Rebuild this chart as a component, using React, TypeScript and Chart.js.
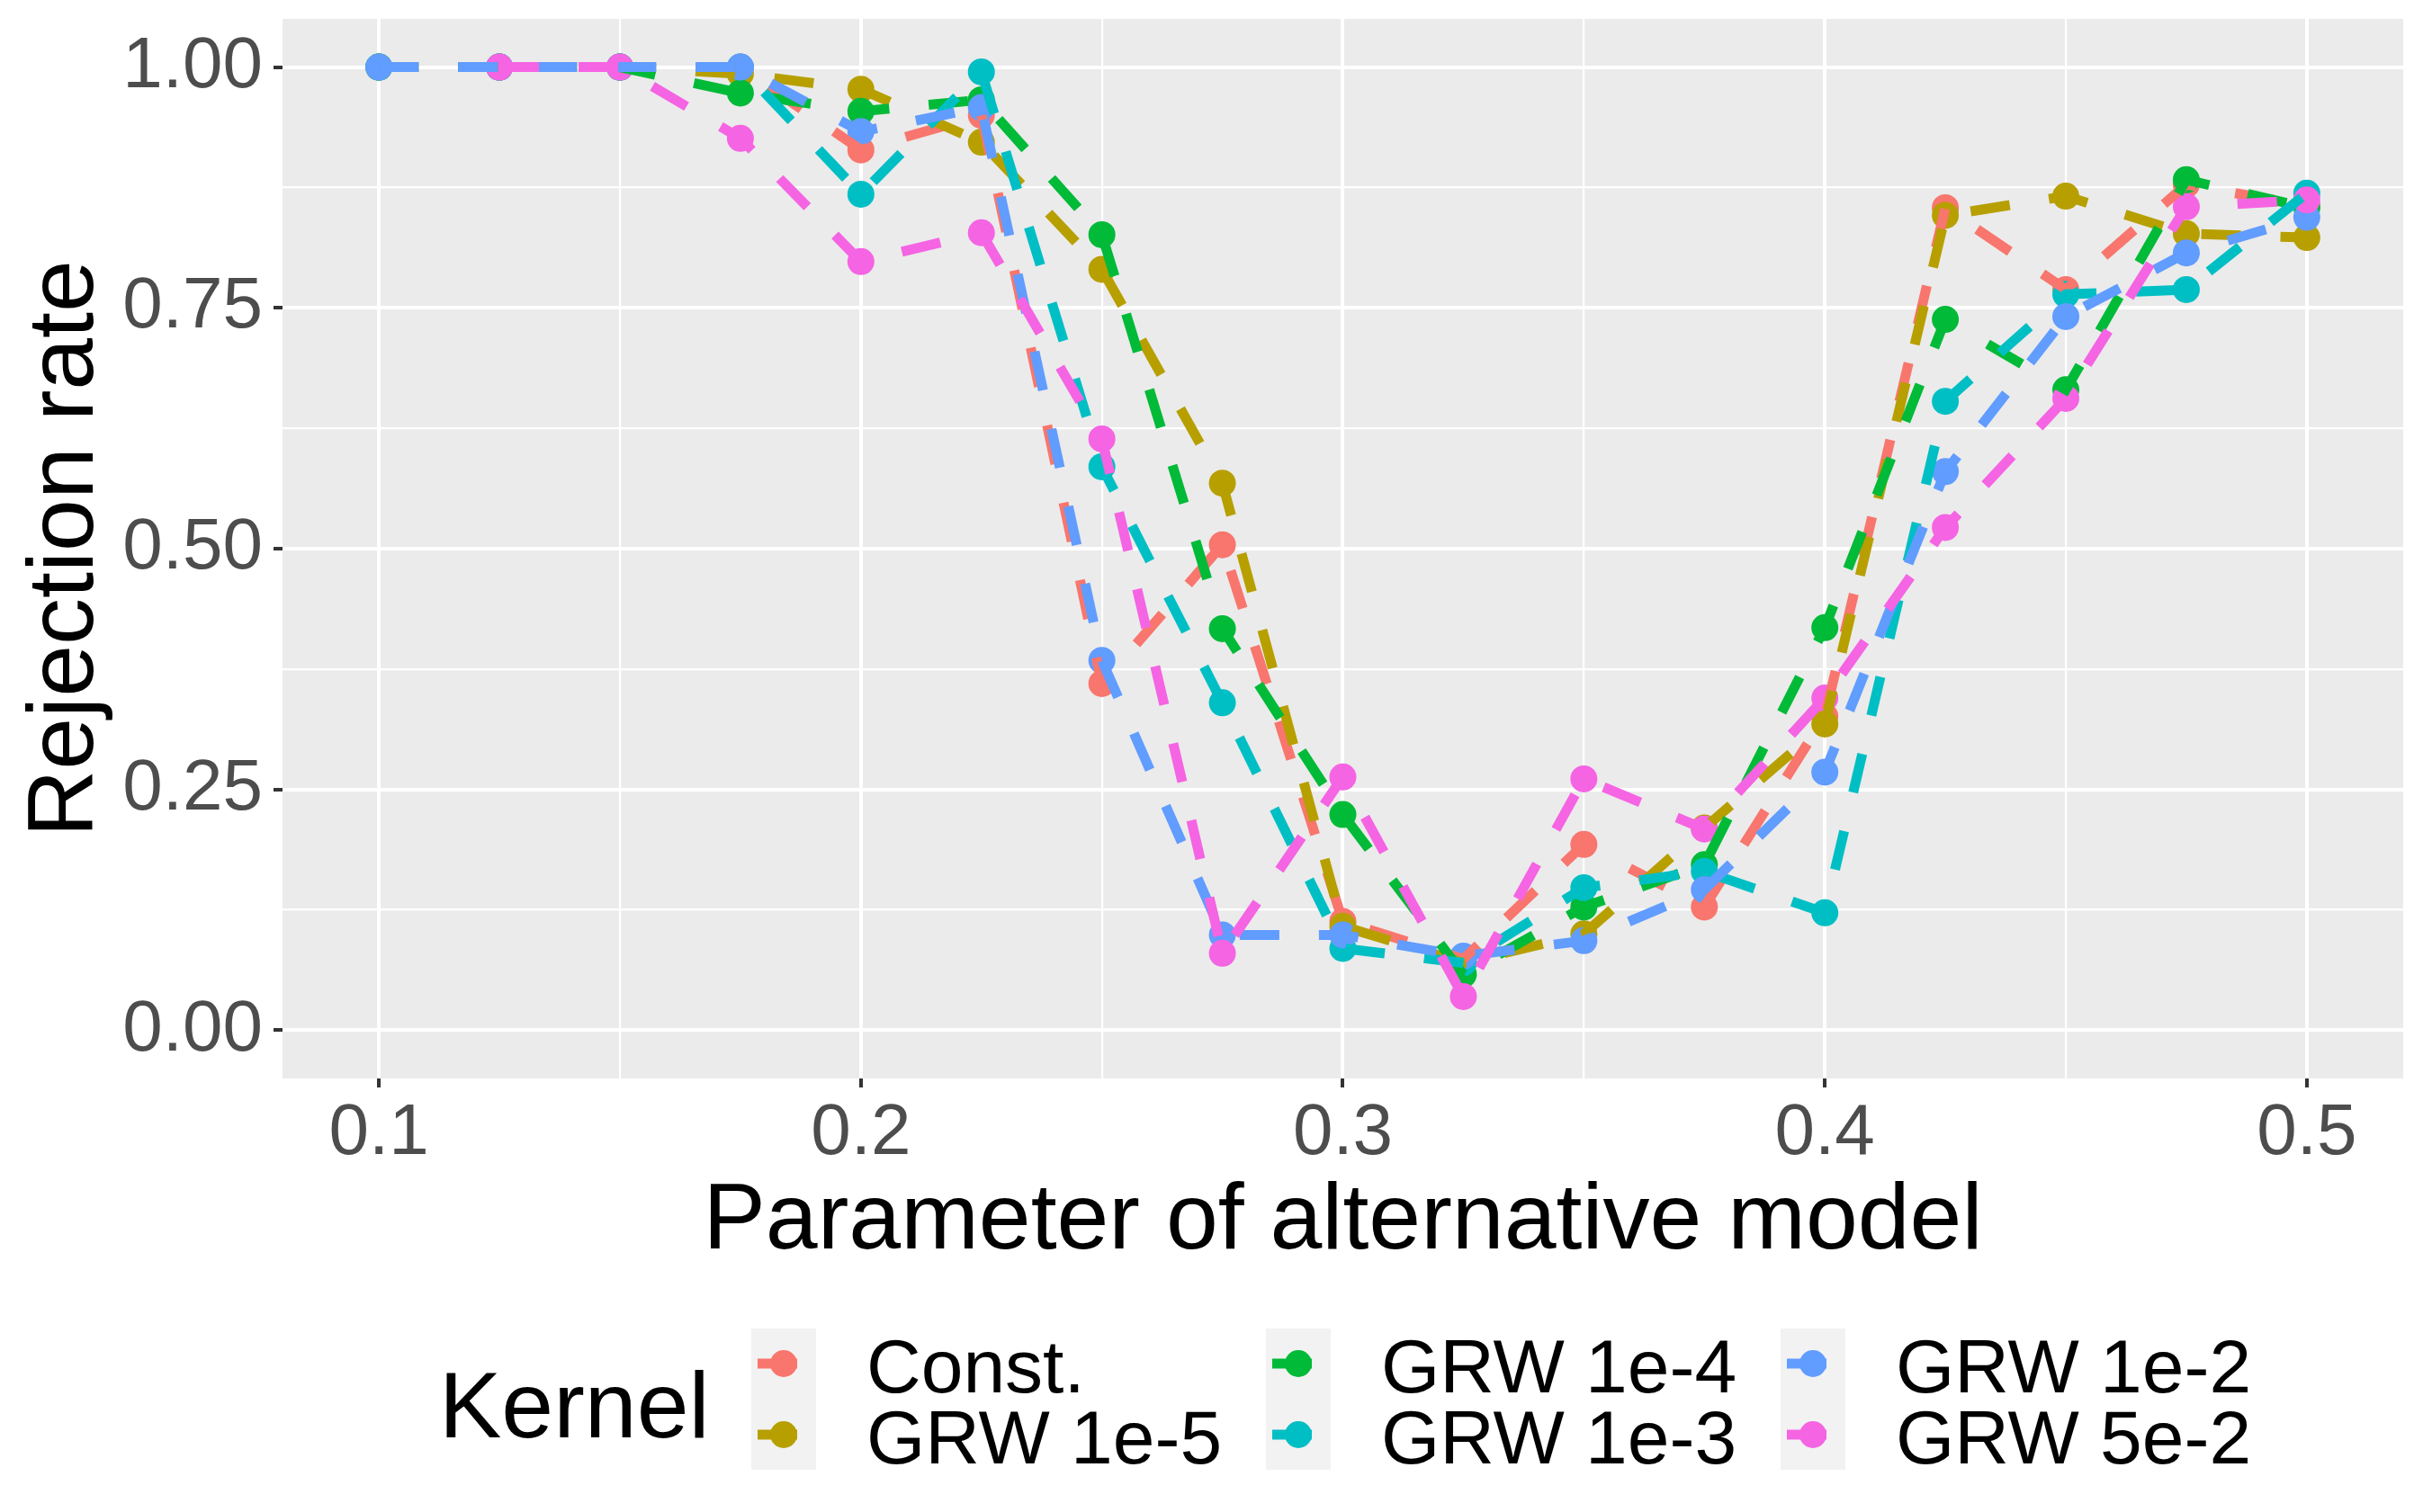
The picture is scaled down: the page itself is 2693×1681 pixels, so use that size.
import React, { useEffect, useRef } from 'react';
import { Chart, registerables } from 'chart.js';

Chart.register(...registerables);

// ---- data ----
const xValues = [0.1, 0.125, 0.15, 0.175, 0.2, 0.225, 0.25, 0.275, 0.3, 0.325, 0.35, 0.375, 0.4, 0.425, 0.45, 0.475, 0.5];

const seriesLabels = ['Const.', 'GRW 1e-5', 'GRW 1e-4', 'GRW 1e-3', 'GRW 1e-2', 'GRW 5e-2'];
const seriesColors = ['#F8766D', '#B79F00', '#00BA38', '#00BFC4', '#619CFF', '#F564E3'];

const constValues = [1.0, 1.0, 1.0, 1.0, 0.914, 0.95, 0.36, 0.504, 0.113, 0.074, 0.193, 0.128, 0.326, 0.854, 0.769, 0.878, 0.856];
const grw1e5Values = [1.0, 1.0, 1.0, 0.993, 0.977, 0.922, 0.79, 0.568, 0.108, 0.07, 0.1, 0.21, 0.318, 0.846, 0.866, 0.827, 0.823];
const grw1e4Values = [1.0, 1.0, 1.0, 0.973, 0.954, 0.966, 0.826, 0.417, 0.224, 0.058, 0.128, 0.172, 0.418, 0.738, 0.665, 0.883, 0.854];
const grw1e3Values = [1.0, 1.0, 1.0, 1.0, 0.868, 0.995, 0.585, 0.34, 0.085, 0.07, 0.148, 0.165, 0.122, 0.653, 0.764, 0.769, 0.869];
const grw1e2Values = [1.0, 1.0, 1.0, 1.0, 0.933, 0.958, 0.384, 0.099, 0.099, 0.077, 0.093, 0.146, 0.268, 0.58, 0.741, 0.807, 0.844];
const grw5e2Values = [null, 1.0, 1.0, 0.926, 0.798, 0.828, 0.614, 0.08, 0.263, 0.035, 0.261, 0.209, 0.345, 0.522, 0.656, 0.855, 0.862];

const seriesValues = [constValues, grw1e5Values, grw1e4Values, grw1e3Values, grw1e2Values, grw5e2Values];

const xMajorTicks = [0.1, 0.2, 0.3, 0.4, 0.5];
const xTickLabels = ['0.1', '0.2', '0.3', '0.4', '0.5'];
const xMinorTicks = [0.15, 0.25, 0.35, 0.45];
const yMajorTicks = [0, 0.25, 0.5, 0.75, 1];
const yTickLabels = ['0.00', '0.25', '0.50', '0.75', '1.00'];
const yMinorTicks = [0.125, 0.375, 0.625, 0.875];

const xTitle = 'Parameter of alternative model';
const yTitle = 'Rejection rate';
const legendTitle = 'Kernel';

// ---- layout / style ----
const W = 2693;
const H = 1681;
const FONT = '"Liberation Sans", Arial, Helvetica, sans-serif';

function isMember(v: number, arr: number[]) {
  return arr.some((a) => Math.abs(a - v) < 1e-9);
}
function labelFor(v: number, ticks: number[], labels: string[]) {
  const i = ticks.findIndex((a) => Math.abs(a - v) < 1e-9);
  return i >= 0 ? labels[i] : '';
}
function zeroPadding(scale: any) {
  scale.paddingTop = 0;
  scale.paddingBottom = 0;
  scale.paddingLeft = 0;
  scale.paddingRight = 0;
}

const decorPlugin = {
  id: 'decor',
  beforeDraw(chart: any) {
    const { ctx, chartArea } = chart;
    ctx.save();
    ctx.fillStyle = '#FFFFFF';
    ctx.fillRect(0, 0, chart.width, chart.height);
    ctx.fillStyle = '#EBEBEB';
    ctx.fillRect(chartArea.left, chartArea.top, chartArea.right - chartArea.left, chartArea.bottom - chartArea.top);
    ctx.restore();
  },
  afterDraw(chart: any) {
    const { ctx, chartArea } = chart;
    ctx.save();
    // axis titles
    ctx.fillStyle = '#000000';
    ctx.font = `104px ${FONT}`;
    ctx.textAlign = 'center';
    ctx.textBaseline = 'alphabetic';
    ctx.fillText(xTitle, (chartArea.left + chartArea.right) / 2, 1388);
    ctx.save();
    ctx.translate(103, (chartArea.top + chartArea.bottom) / 2);
    ctx.rotate(-Math.PI / 2);
    ctx.fillText(yTitle, 0, 0);
    ctx.restore();

    // legend
    ctx.textAlign = 'left';
    ctx.fillText(legendTitle, 488, 1598);
    const colX = [835, 1407, 1979];
    const boxW = 72;
    const boxTop = 1477;
    const boxH = 157;
    const rowY = [1516, 1595];
    const rowBase = [1548, 1627];
    for (let c = 0; c < 3; c++) {
      ctx.fillStyle = '#F2F2F2';
      ctx.fillRect(colX[c], boxTop, boxW, boxH);
    }
    ctx.font = `84px ${FONT}`;
    for (let i = 0; i < seriesLabels.length; i++) {
      const c = Math.floor(i / 2);
      const r = i % 2;
      const x0 = colX[c];
      const cy = rowY[r];
      const color = seriesColors[i];
      ctx.strokeStyle = color;
      ctx.lineWidth = 11;
      ctx.lineCap = 'butt';
      ctx.beginPath();
      ctx.moveTo(x0 + 7, cy);
      ctx.lineTo(x0 + 51, cy);
      ctx.stroke();
      ctx.fillStyle = color;
      ctx.beginPath();
      ctx.arc(x0 + boxW / 2, cy, 15, 0, Math.PI * 2);
      ctx.fill();
      ctx.fillStyle = '#000000';
      ctx.fillText(seriesLabels[i], x0 + 128, rowBase[r]);
    }
    ctx.restore();
  },
};

export default function App() {
  const canvasRef = useRef<HTMLCanvasElement | null>(null);

  useEffect(() => {
    document.body.style.margin = '0';
    const canvas = canvasRef.current;
    if (!canvas) return;

    const pointSets = seriesLabels.map((label, i) => ({
      label: label + ' points',
      data: xValues.map((x, j) => ({ x, y: seriesValues[i][j] })),
      showLine: false,
      pointRadius: 15,
      pointHoverRadius: 15,
      pointBorderWidth: 0,
      pointBackgroundColor: seriesColors[i],
      borderColor: seriesColors[i],
      backgroundColor: seriesColors[i],
      order: 100 - i,
    }));
    const lineSets = seriesLabels.map((label, i) => ({
      label,
      data: xValues.map((x, j) => ({ x, y: seriesValues[i][j] })),
      showLine: true,
      pointRadius: 0,
      pointHoverRadius: 0,
      borderColor: seriesColors[i],
      borderWidth: 11,
      borderDash: [44, 44],
      borderCapStyle: 'butt',
      tension: 0,
      spanGaps: false,
      fill: false,
      order: 50 - i,
    }));

    const chart = new Chart(canvas, {
      type: 'line',
      data: { datasets: [...pointSets, ...lineSets] as any },
      options: {
        responsive: false,
        animation: false,
        devicePixelRatio: 1,
        layout: { padding: { top: 21, right: 22, left: 0, bottom: 0 } },
        plugins: {
          legend: { display: false },
          tooltip: { enabled: false },
        },
        events: [],
        scales: {
          x: {
            type: 'linear',
            min: 0.08,
            max: 0.52,
            afterBuildTicks: (scale: any) => {
              scale.ticks = [...xMajorTicks, ...xMinorTicks].sort((a, b) => a - b).map((v) => ({ value: v }));
            },
            afterFit: (scale: any) => {
              scale.height = 482;
              zeroPadding(scale);
            },
            border: { display: false },
            grid: {
              color: '#FFFFFF',
              lineWidth: (ctx: any) => (isMember(ctx.tick.value, xMajorTicks) ? 4 : 2.2),
              drawTicks: true,
              tickLength: 10,
              tickWidth: 4,
              tickColor: (ctx: any) => (isMember(ctx.tick.value, xMajorTicks) ? '#333333' : 'rgba(0,0,0,0)'),
            },
            ticks: {
              autoSkip: false,
              maxRotation: 0,
              padding: 4,
              color: '#4D4D4D',
              font: { family: FONT, size: 80 },
              callback: (v: any) => labelFor(Number(v), xMajorTicks, xTickLabels),
            },
          },
          y: {
            type: 'linear',
            min: -0.05,
            max: 1.05,
            afterBuildTicks: (scale: any) => {
              scale.ticks = [...yMajorTicks, ...yMinorTicks].sort((a, b) => a - b).map((v) => ({ value: v }));
            },
            afterFit: (scale: any) => {
              scale.width = 314;
              zeroPadding(scale);
            },
            border: { display: false },
            grid: {
              color: '#FFFFFF',
              lineWidth: (ctx: any) => (isMember(ctx.tick.value, yMajorTicks) ? 4 : 2.2),
              drawTicks: true,
              tickLength: 10,
              tickWidth: 4,
              tickColor: (ctx: any) => (isMember(ctx.tick.value, yMajorTicks) ? '#333333' : 'rgba(0,0,0,0)'),
            },
            ticks: {
              autoSkip: false,
              padding: 12,
              color: '#4D4D4D',
              font: { family: FONT, size: 80 },
              callback: (v: any) => labelFor(Number(v), yMajorTicks, yTickLabels),
            },
          },
        },
      } as any,
      plugins: [decorPlugin],
    });

    return () => {
      chart.destroy();
    };
  }, []);

  return (
    <div style={{ position: 'absolute', left: 0, top: 0, width: W, height: H, background: '#FFFFFF' }}>
      <canvas ref={canvasRef} width={W} height={H} style={{ width: W, height: H, display: 'block' }} />
    </div>
  );
}
